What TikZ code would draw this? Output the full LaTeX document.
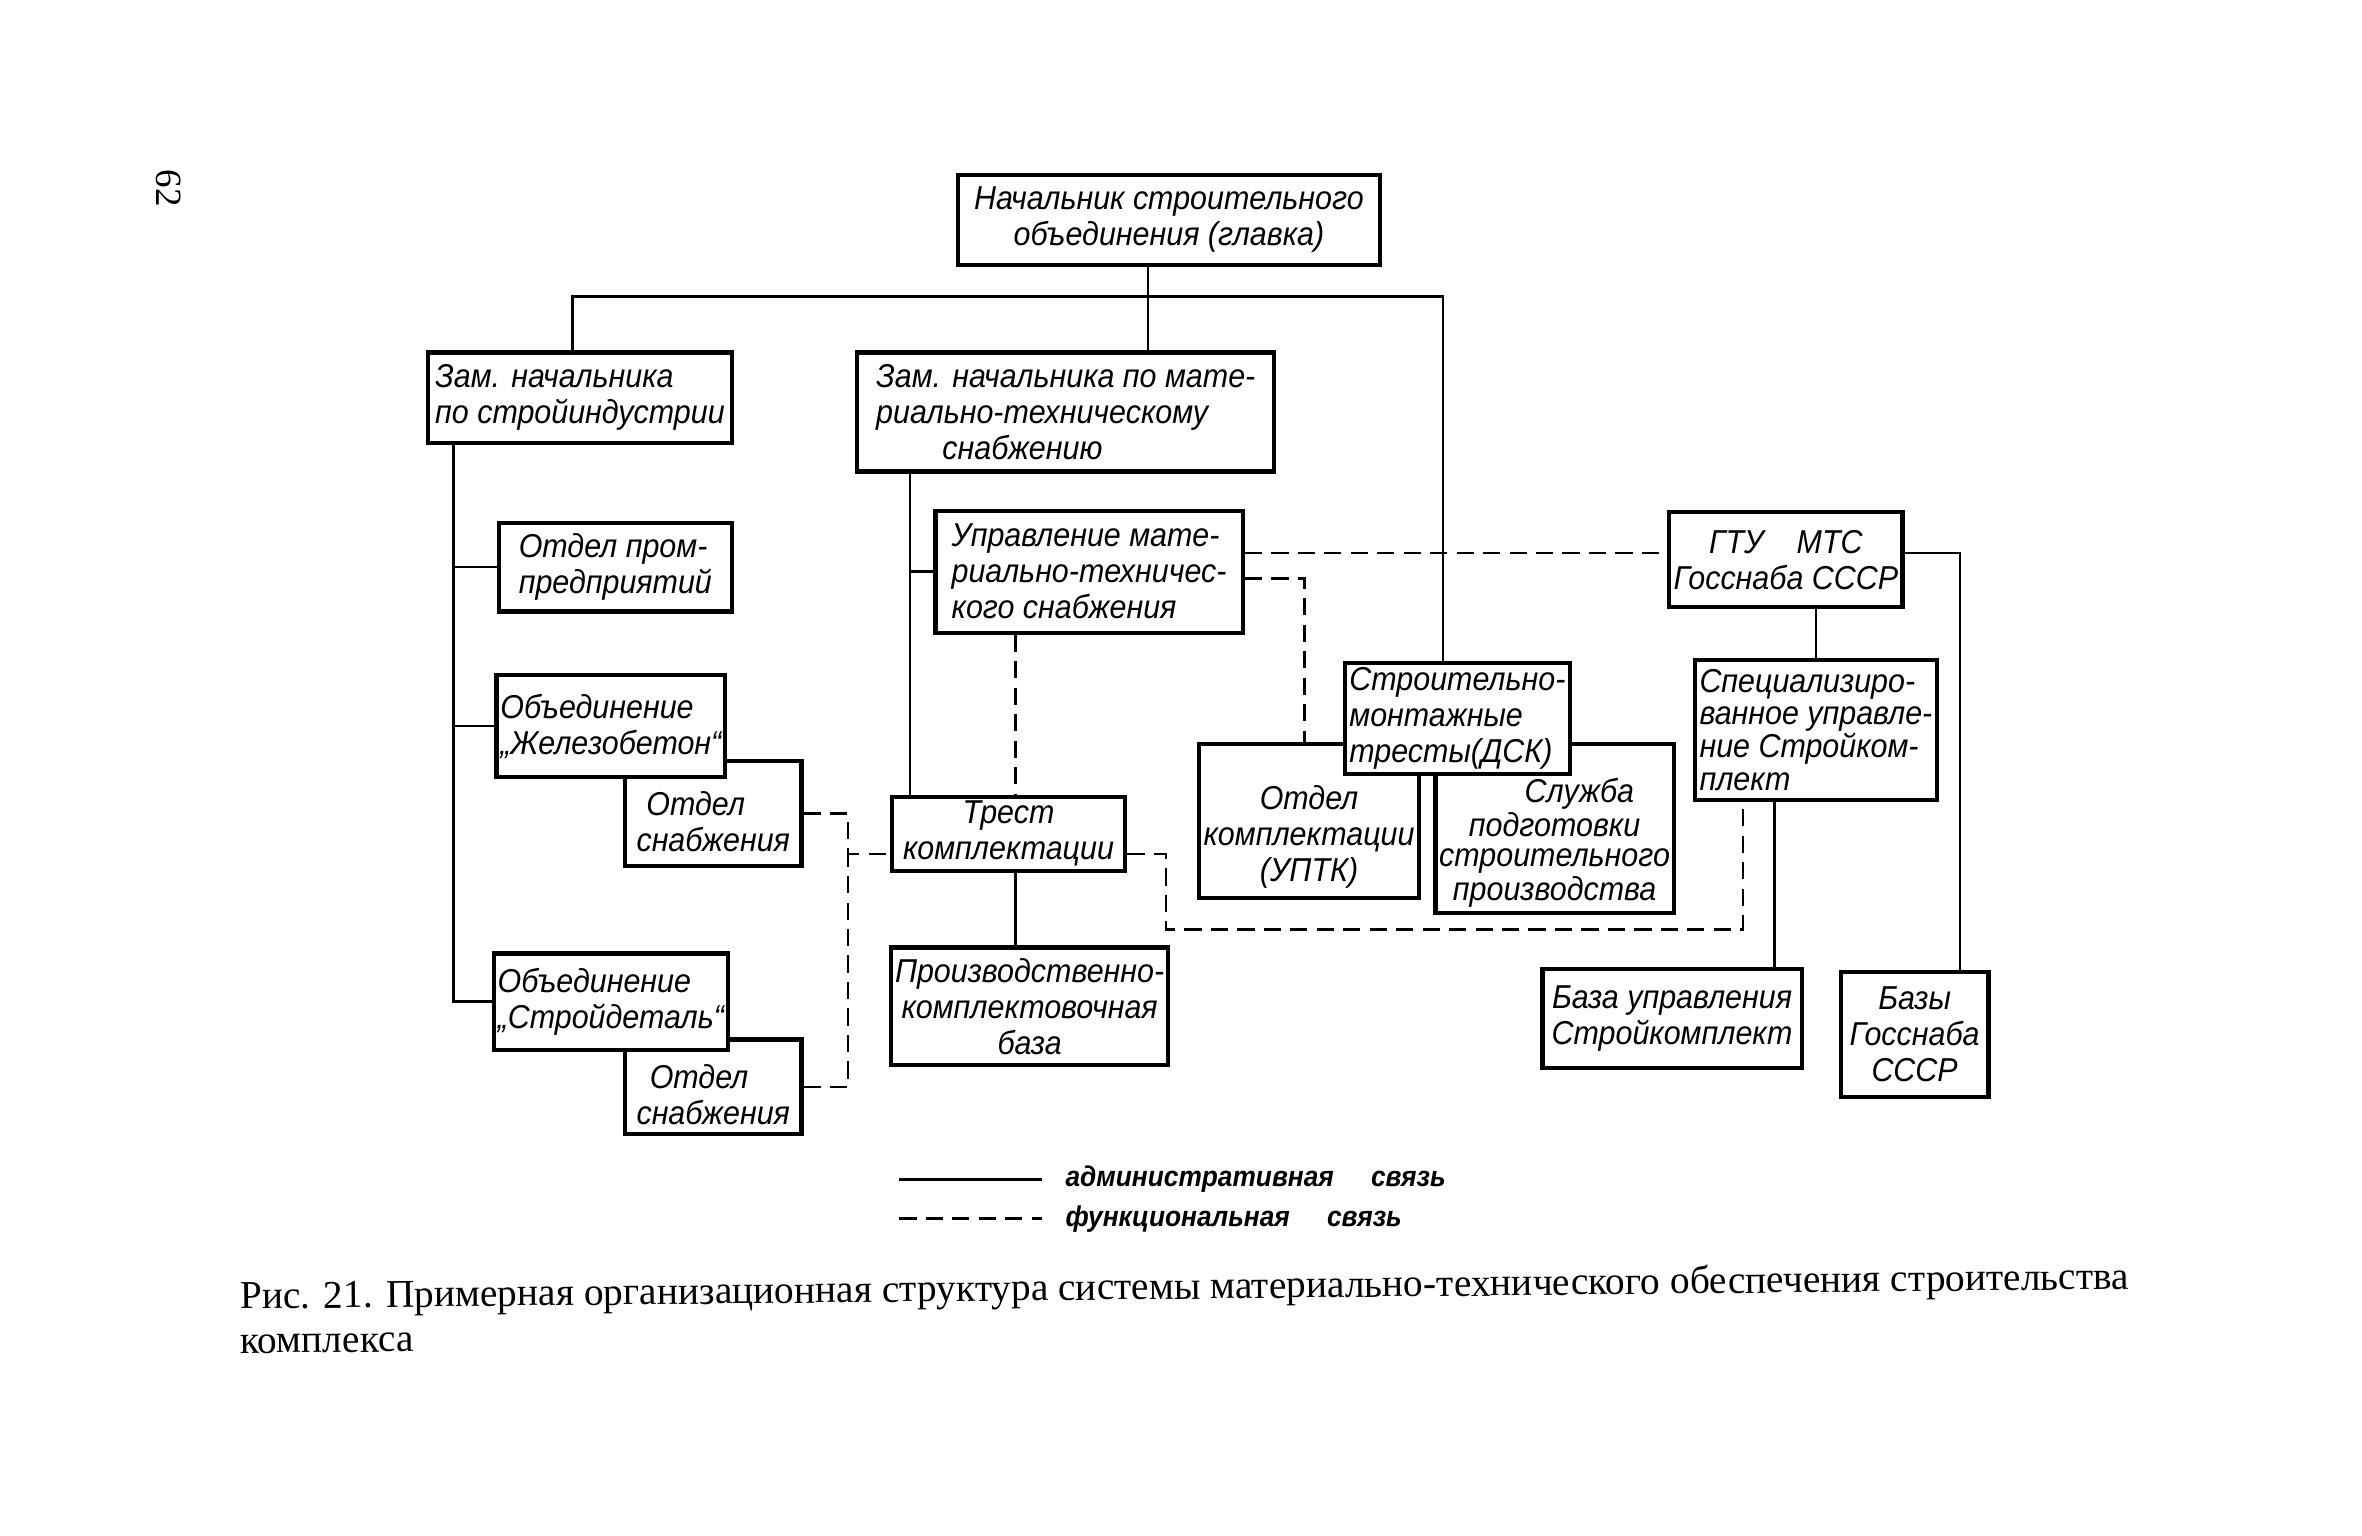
\documentclass[tikz,border=0pt]{standalone}
\usepackage{fontspec}
\setmainfont{Liberation Serif}
\newfontfamily\chertezh[FakeStretch=0.92]{Liberation Sans}
\usepackage{tikz}

\begin{document}
\begin{tikzpicture}[x=0.02cm, y=-0.02cm]
	\tikzset{boite/.style={rectangle, draw=black, line width=1.6pt, fill=white, inner xsep=0.05cm, inner ysep=0.04cm, font=\chertezh\itshape\fontsize{12.5}{13.6}\selectfont}, lien/.style={line width=1pt}, lienf/.style={line width=1pt, dash pattern=on 6.5pt off 3.5pt}, legende/.style={inner xsep=0.3cm, font=\chertezh\itshape\bfseries\fontsize{10.8}{13}\selectfont}};

	\useasboundingbox (0,0) rectangle (1568,1019);

	\node[boite, minimum width=5.60cm, minimum height=1.20cm, align=center] (chef) at ( 776,  146) {Начальник строительного\\объединения (главка)};
	\node[boite, minimum width=4.04cm, minimum height=1.20cm, align=left] (adj1) at ( 385,  264) {Зам. начальника\\по стройиндустрии};
	\node[boite, minimum width=5.54cm, minimum height=1.58cm, align=left] (adj2) at (707.5, 273.5) {Зам. начальника по мате-\\риально-техническому\\\hspace*{2em}снабжению};

	\node[boite, minimum width=3.10cm, minimum height=1.18cm, align=left] (prom) at (408.5, 376.5) {Отдел пром-\\предприятий};
	\node[boite, minimum width=2.34cm, minimum height=1.40cm, align=left] (snab1) at (473.5,  540) {\rule{0pt}{1.2em}\hspace*{0.3em}Отдел\\снабжения};
	\node[boite, minimum width=2.98cm, minimum height=1.36cm, align=left] (zhb) at (405.5,  482) {Объединение\\„Железобетон“};
	\node[boite, minimum width=2.34cm, minimum height=1.26cm, align=left] (snab2) at (473.5, 721.5) {\rule{0pt}{1.2em}\hspace*{0.4em}Отдел\\снабжения};
	\node[boite, minimum width=2.98cm, minimum height=1.28cm, align=left] (sdet) at (405.5,  665) {Объединение\\„Стройдеталь“};

	\node[boite, minimum width=4.08cm, minimum height=1.62cm, align=left] (upr) at ( 723, 379.5) {Управление мате-\\риально-техничес-\\кого снабжения};
	\node[boite, minimum width=3.10cm, minimum height=0.98cm, align=center] (trest) at (669.5, 553.5) {Трест\\комплектации};
	\node[boite, minimum width=3.66cm, minimum height=1.56cm, align=center] (proizv) at (683.5,  668) {Производственно-\\комплектовочная\\база};

	\node[boite, minimum width=2.92cm, minimum height=2.04cm, align=center] (uptk) at ( 869,  545) {\rule{0pt}{1.7em}Отдел\\комплектации\\(УПТК)};
	\node[boite, minimum width=3.04cm, minimum height=2.24cm, align=center, font=\chertezh\itshape\fontsize{12.5}{11.6}\selectfont] (sluzh) at (1032,  550) {\rule{0pt}{1.6em}\hspace*{1.5em}Служба\\подготовки\\строительного\\производства};
	\node[boite, minimum width=2.98cm, minimum height=1.48cm, align=left] (smt) at (967.5,  477) {Строительно-\\монтажные\\тресты(ДСК)};

	\node[boite, minimum width=3.10cm, minimum height=1.26cm, align=center] (gtu) at (1185.5, 371.5) {ГТУ\quad МТС\\Госснаба СССР};
	\node[boite, minimum width=3.22cm, minimum height=1.86cm, align=left, font=\chertezh\itshape\fontsize{12.5}{12.4}\selectfont] (spec) at (1205.5, 484.5) {Специализиро-\\ванное управле-\\ние Стройком-\\плект};
	\node[boite, minimum width=3.44cm, minimum height=1.32cm, align=center] (baza) at (1110,  676) {База управления\\Стройкомплект};
	\node[boite, minimum width=1.96cm, minimum height=1.66cm, align=center] (bazy) at (1271, 686.5) {Базы\\Госснаба\\СССР};

	\coordinate (bus1) at ( 380,  197);
	\coordinate (bus)  at ( 762,  197);
	\coordinate (bus2) at ( 958,  197);
	\coordinate (tr1)  at ( 301,    0);
	\coordinate (tr2)  at ( 604,    0);
	\coordinate (axe)  at ( 674,    0);
	\coordinate (f1)   at ( 563,  567);
	\coordinate (f2)   at ( 774,  617);
	\coordinate (f3)   at (1157,    0);
	\coordinate (f4)   at ( 866,  384);
	\coordinate (f5)   at (   0,  367);
	\coordinate (f6)   at (1301,    0);
	\coordinate (f7)   at (1178,    0);

	% liens administratifs
	\draw[lien] (adj1.north -| bus1) -- (bus1) -- (bus2) -- (smt.north -| bus2);
	\draw[lien] (chef.south -| bus) -- (adj2.north -| bus);
	\draw[lien] (adj1.south -| tr1) |- (sdet.west);
	\draw[lien] (tr1 |- prom.west) -- (prom.west);
	\draw[lien] (tr1 |- zhb.west) -- (zhb.west);
	\draw[lien] (adj2.south -| tr2) -- (trest.north -| tr2);
	\draw[lien] (tr2 |- upr.west) -- (upr.west);
	\draw[lien] (trest.south -| axe) -- (proizv.north -| axe);
	\draw[lien] (gtu.south -| spec.north) -- (spec.north);
	\draw[lien] (gtu.east |- f5) -| (bazy.north -| f6);
	\draw[lien] (spec.south -| f7) -- (baza.north -| f7);

	% liens fonctionnels
	\draw[lienf] (upr.south -| axe) -- (trest.north -| axe);
	\draw[lienf] (snab1.east) -| (f1) -- (trest.west |- f1);
	\draw[lienf] (snab2.east) -| (f1);
	\draw[lienf] (trest.east |- f1) -| (f2) -| (spec.south -| f3);
	\draw[lienf] (upr.east |- f4) -| (uptk.north -| f4);
	\draw[lienf] (upr.east |- f5) -- (gtu.west |- f5);

	% legende
	\coordinate (la) at ( 597,  783);
	\coordinate (lf) at ( 597,  809);
	\node[legende, anchor=west] (adm) at ( 692,  783) {административная\hspace{1.3em}связь};
	\node[legende, anchor=west] (fon) at ( 692,  809) {функциональная\hspace{1.3em}связь};
	\draw[lien] (la) -- (adm.west);
	\draw[lienf] (lf) -- (fon.west);

	\node[anchor=north west, rotate=0.6, align=left, font=\fontsize{14.9}{16.8}\selectfont] (titre) at ( 153,  844) {Рис. 21. Примерная организационная структура системы материально-технического обеспечения строительства\\комплекса};
	\node[rotate=-90, font=\fontsize{14}{14}\selectfont] (page) at ( 112,  125) {62};

\end{tikzpicture}
\end{document}
